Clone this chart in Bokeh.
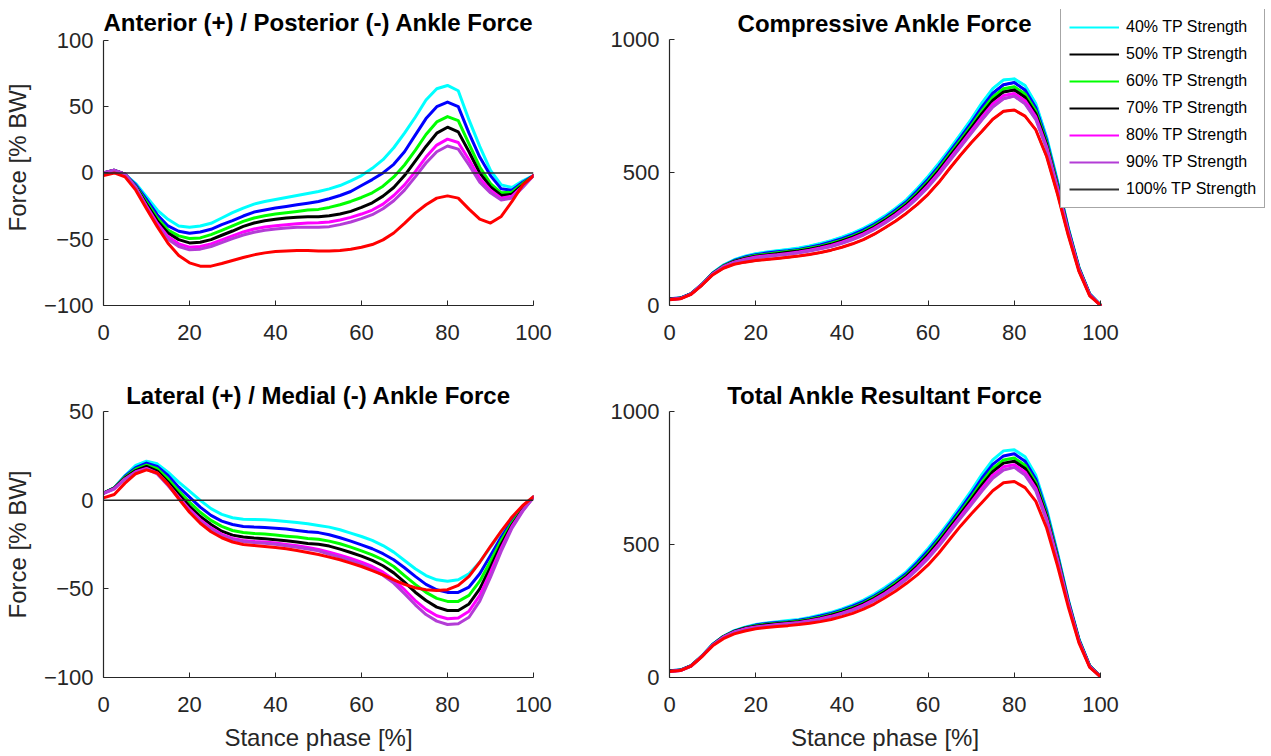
from bokeh.plotting import figure
from bokeh.layouts import column, row
from bokeh.models import Span, Legend, LegendItem, Range1d, Label
from bokeh.embed import file_html
from bokeh.resources import INLINE

# ---------------- data ----------------
stance = [0, 2.5, 5, 7.5, 10, 12.5, 15, 17.5, 20, 22.5, 25, 27.5, 30, 32.5, 35, 37.5,
          40, 42.5, 45, 47.5, 50, 52.5, 55, 57.5, 60, 62.5, 65, 67.5, 70, 72.5, 75,
          77.5, 80, 82.5, 85, 87.5, 90, 92.5, 95, 97.5, 100]

series_names = ["40% TP Strength", "50% TP Strength", "60% TP Strength", "70% TP Strength",
                "80% TP Strength", "90% TP Strength", "100% TP Strength"]
line_colors = ["#00FFFF", "#0000FF", "#00FF00", "#000000", "#FF00FF", "#B33DD6", "#FF0000"]
legend_colors = ["#00FFFF", "#000000", "#00FF00", "#000000", "#FF00FF", "#B33DD6", "#333333"]

x_ticks = [0, 20, 40, 60, 80, 100]

# Anterior (+) / Posterior (-) ankle force [% BW]
ap_40 = [0, 2, -1, -8, -18, -28, -35, -40, -41, -40, -38, -34, -30, -26.5, -23.5, -21.5, -20, -18.5, -17, -15.5, -14, -12, -9.5, -6, -2, 3.5, 10, 19, 30, 42, 55, 63.5, 66, 62, 40, 20, 2, -9, -11, -6, -2]
ap_50 = [0, 2, -1, -9, -20, -31.5, -40, -44, -45.5, -44.5, -42.5, -39, -36, -32.5, -29.5, -28, -26.5, -25.3, -24, -22.8, -21.5, -19.5, -17, -14, -9.5, -5, 0, 6.5, 16, 28.5, 41, 50, 53.5, 50, 30, 12, -2, -12, -13, -7, -2]
ap_60 = [0, 2, -1, -10, -22, -34, -43, -47.5, -49.5, -49, -46.5, -43.3, -40, -36.5, -34, -32.3, -31, -30, -29, -28, -27.5, -26, -24, -21.5, -18.5, -15, -10, -3, 6, 17, 29, 38.5, 42.5, 39.5, 22, 4.5, -8, -15, -14.5, -8, -2]
ap_70 = [0, 2, -1, -10.5, -23.5, -36, -45.3, -50.3, -52.8, -52.3, -50.3, -47, -43.8, -40.3, -37.8, -36, -35, -34, -33.5, -33, -33, -32.3, -31, -29, -26, -22.5, -17.5, -11, -2, 9, 20, 30, 34.5, 31, 16, 0, -10.5, -17, -16, -9, -2]
ap_80 = [0, 2, -1, -11, -25, -38, -48, -53.5, -56, -55.5, -53.5, -50.5, -47.5, -44.5, -42.3, -40.8, -39.8, -39, -38.3, -37.8, -37.5, -37, -35.5, -33.5, -31, -28, -23.5, -17, -9, 1, 12, 21, 25.5, 23, 10, -4, -13, -19, -17.5, -10, -2]
ap_90 = [0, 2, -1, -11, -26, -39.5, -50, -55.5, -58, -57.5, -55.5, -52.5, -49.5, -46.8, -44.8, -43.3, -42.3, -41.5, -41, -41, -41, -40.5, -39, -37, -34.5, -31.5, -27, -21, -13, -3, 7.5, 16, 20.3, 18, 6, -7, -15, -20.5, -19, -11, -2]
ap_100 = [-2, 0, -3, -13, -27, -40.5, -53, -62.3, -67.8, -70.3, -70.3, -68.3, -66, -63.8, -61.8, -60.3, -59.3, -58.8, -58.5, -58.5, -58.8, -58.8, -58.5, -57.5, -56, -54, -50.5, -45.3, -38, -30.3, -24, -19, -17.3, -19, -27.3, -34.8, -37.8, -32.8, -21.5, -9, -2]

# Compressive ankle force [% BW]
c_40 = [25, 28, 45, 80, 122, 152, 172, 185, 195, 201, 206, 211, 216, 224, 233, 244, 257, 272, 290, 312, 337, 366, 398, 440, 485, 535, 588, 643, 700, 762, 815, 848, 852, 827, 758, 633, 470, 294, 144, 44, 2]
c_50 = [25, 28, 45, 79, 121, 150, 169, 182, 191, 197, 202, 206, 211, 219, 228, 239, 251, 266, 284, 305, 330, 359, 390, 431, 475, 524, 577, 631, 687, 746, 798, 830, 838, 810, 743, 622, 463, 290, 142, 43, 2]
c_60 = [24, 27, 44, 79, 120, 149, 167, 179, 188, 193, 198, 203, 208, 215, 223, 234, 246, 261, 278, 300, 324, 353, 384, 423, 466, 515, 568, 621, 675, 732, 783, 815, 822, 795, 731, 613, 456, 286, 140, 42, 2]
c_70 = [24, 27, 44, 78, 119, 147, 166, 177, 185, 190, 195, 200, 205, 212, 220, 230, 243, 257, 274, 295, 320, 348, 379, 417, 460, 508, 560, 613, 667, 721, 771, 803, 810, 783, 721, 605, 451, 283, 138, 41, 2]
c_80 = [23, 26, 43, 78, 118, 146, 163, 174, 182, 187, 191, 196, 201, 208, 216, 226, 238, 252, 269, 290, 315, 342, 373, 410, 452, 499, 552, 604, 656, 709, 758, 789, 797, 770, 709, 597, 445, 280, 136, 40, 1]
c_90 = [23, 26, 43, 78, 118, 145, 162, 172, 179, 184, 189, 193, 198, 205, 213, 222, 234, 248, 265, 286, 310, 337, 367, 404, 445, 492, 544, 596, 647, 698, 746, 777, 787, 758, 699, 589, 440, 277, 134, 39, 1]
c_100 = [22, 25, 42, 76, 115, 140, 155, 163, 169, 173, 177, 181, 186, 192, 199, 208, 219, 232, 248, 268, 292, 318, 347, 380, 418, 463, 515, 565, 612, 655, 700, 730, 735, 712, 660, 560, 420, 265, 128, 36, 1]

# Lateral (+) / Medial (-) ankle force [% BW]
ml_40 = [4, 7, 13.9, 19.6, 22, 20.5, 15.8, 10.2, 5.1, -0.1, -4.8, -8, -9.9, -10.7, -10.9, -11, -11.4, -12, -12.6, -13.3, -14.3, -15.2, -16.7, -18.6, -20.5, -22.7, -25.6, -29.3, -34, -38.7, -42.5, -44.9, -45.7, -44.9, -41.5, -35, -26.5, -18, -10.5, -3.9, 1.7]
ml_50 = [4, 7, 13.5, 18.3, 20.9, 19, 13.9, 7.3, 1.7, -3.9, -8.6, -11.8, -13.7, -14.8, -15.2, -15.4, -15.8, -16.3, -17.1, -17.8, -18.3, -19.5, -21.2, -23.1, -25.2, -27.4, -30.2, -33.6, -38.1, -43, -47.5, -50.5, -52, -52, -49, -41.5, -31.2, -20.8, -11.8, -4.3, 1.7]
ml_60 = [4, 7, 13, 17.5, 19.8, 17.7, 12, 5.1, -1.1, -6.8, -11.4, -14.8, -17.1, -18.2, -18.8, -19.1, -19.7, -20.3, -20.8, -21.6, -22, -23.1, -24.6, -26.5, -28.6, -30.8, -33.6, -37.4, -42.5, -47.5, -52, -55.4, -57.1, -57.1, -53.7, -45.7, -34.4, -22.7, -12.8, -4.9, 1.7]
ml_70 = [4, 6.8, 12.5, 16.7, 19, 16.4, 10.2, 3.2, -3.5, -9.2, -13.7, -17.5, -19.7, -20.8, -21.4, -21.8, -22.3, -22.9, -23.6, -24.4, -24.9, -25.9, -27.6, -29.5, -31.6, -34, -37, -41, -46.2, -51.9, -56.6, -60.3, -62.2, -62.2, -58.5, -50, -37.8, -25, -13.9, -5.4, 1.7]
ml_80 = [3.8, 6.5, 12, 16, 17.9, 15.3, 8.9, 1.7, -5.2, -11, -15.6, -19.3, -21.6, -22.7, -23.3, -23.6, -24.2, -25, -25.7, -26.7, -27.8, -29.3, -31, -32.9, -35, -37.4, -40.6, -44.9, -50.5, -56.6, -61.6, -65.2, -66.9, -66.5, -62.6, -53.7, -40.6, -26.9, -14.8, -5.8, 1.7]
ml_90 = [3.8, 6.3, 11.8, 15.7, 17.5, 14.8, 8.3, 1, -6, -11.8, -16.3, -20, -22.2, -23.3, -23.9, -24.3, -24.9, -25.7, -26.5, -27.5, -28.6, -30.5, -32.1, -34.1, -36.3, -38.9, -42.3, -46.8, -52.8, -59, -64.5, -68.2, -70.1, -69.7, -66, -56.9, -43.4, -28.8, -15.8, -6.2, 1.7]
ml_100 = [1.3, 3.2, 9.6, 14.9, 17.1, 15.3, 8.9, 0.8, -6.8, -13, -17.8, -21.2, -23.6, -25, -25.5, -26.1, -26.7, -27.4, -28.4, -29.5, -30.6, -32.1, -33.6, -35.5, -37.4, -39.7, -42.1, -44.9, -47.5, -49.4, -50.5, -50.9, -50.5, -48, -43, -35, -26, -17.5, -9.5, -3, 2]

# Total ankle resultant force [% BW]
t_40 = [25, 28, 45, 81, 125, 155, 176, 189, 199, 205, 210, 214, 218, 226, 235, 245, 258, 273, 291, 313, 338, 367, 398, 440, 485, 535, 588, 644, 702, 764, 818, 852, 856, 830, 760, 634, 471, 295, 145, 45, 3]
t_50 = [25, 28, 45, 80, 124, 154, 174, 187, 197, 203, 207, 210, 215, 222, 231, 241, 253, 268, 285, 306, 331, 360, 391, 432, 476, 525, 578, 632, 689, 749, 801, 833, 841, 813, 745, 623, 464, 291, 143, 44, 3]
t_60 = [24, 27, 44, 80, 123, 154, 173, 186, 195, 200, 204, 208, 212, 219, 227, 237, 249, 263, 280, 302, 326, 355, 385, 424, 467, 516, 569, 622, 677, 735, 786, 818, 825, 798, 733, 614, 457, 287, 141, 43, 3]
t_70 = [24, 27, 44, 79, 122, 153, 173, 185, 193, 198, 202, 206, 210, 216, 224, 234, 246, 260, 277, 298, 322, 350, 381, 419, 462, 510, 562, 615, 669, 724, 774, 806, 813, 786, 723, 606, 452, 284, 139, 42, 3]
t_80 = [23, 26, 43, 79, 121, 152, 171, 183, 190, 195, 199, 203, 207, 213, 221, 230, 242, 255, 272, 293, 317, 344, 375, 412, 454, 501, 554, 606, 658, 712, 761, 792, 800, 773, 711, 598, 446, 281, 137, 41, 3]
t_90 = [23, 26, 43, 79, 121, 151, 170, 181, 188, 193, 197, 201, 205, 211, 218, 227, 239, 252, 268, 289, 312, 339, 369, 406, 447, 494, 546, 598, 649, 701, 749, 780, 790, 761, 701, 590, 441, 278, 135, 40, 3]
t_100 = [23, 26, 43, 78, 119, 146, 164, 175, 183, 188, 192, 195, 199, 204, 210, 218, 229, 241, 257, 276, 300, 325, 354, 386, 423, 468, 519, 569, 615, 658, 702, 732, 737, 714, 662, 562, 422, 267, 130, 38, 3]

ap_series = [ap_40, ap_50, ap_60, ap_70, ap_80, ap_90, ap_100]
c_series = [c_40, c_50, c_60, c_70, c_80, c_90, c_100]
ml_series = [ml_40, ml_50, ml_60, ml_70, ml_80, ml_90, ml_100]
t_series = [t_40, t_50, t_60, t_70, t_80, t_90, t_100]

# ---------------- styling ----------------
FONT = "Liberation Sans"
AX_COLOR = "#262626"


def style_axes(p, x_bounds=None, y_bounds=None):
    p.outline_line_color = None
    p.xgrid.visible = False
    p.ygrid.visible = False
    p.background_fill_color = "white"
    p.border_fill_color = "white"
    for ax in (p.xaxis, p.yaxis):
        ax.axis_line_color = AX_COLOR
        ax.axis_line_width = 1.2
        ax.major_tick_line_color = AX_COLOR
        ax.major_tick_in = 5
        ax.major_tick_out = 0
        ax.minor_tick_line_color = None
        ax.major_label_text_font = FONT
        ax.major_label_text_font_size = "22px"
        ax.major_label_text_color = AX_COLOR
        ax.axis_label_text_font = FONT
        ax.axis_label_text_font_size = "24px"
        ax.axis_label_text_font_style = "normal"
        ax.axis_label_text_color = AX_COLOR
    p.xaxis.ticker = x_ticks
    p.xaxis.major_label_standoff = 19
    p.yaxis.major_label_standoff = 10
    if x_bounds is not None:
        p.xaxis.bounds = x_bounds
    if y_bounds is not None:
        p.yaxis.bounds = y_bounds


def style_title(p, text):
    p.title.text = text
    p.title.text_font = FONT
    p.title.text_font_size = "24px"
    p.title.text_font_style = "bold"
    p.title.text_color = "#000000"
    p.title.align = "center"
    p.title.standoff = 6


def title_label(text, y):
    return Label(x=50, y=y, text=text, text_align="center", text_baseline="alphabetic",
                 text_font=FONT, text_font_size="24px", text_font_style="bold",
                 text_color="#000000")


def make_panel(title, series, y_lo, y_hi, y_ticks, width, height, left, right, top, bottom,
               ylabel=None, xlabel=None, zero_line=False):
    p = figure(width=width, height=height, x_range=Range1d(0, 100), y_range=Range1d(y_lo, y_hi),
               output_backend="svg", toolbar_location=None,
               min_border_left=left, min_border_right=right,
               min_border_top=top, min_border_bottom=bottom)
    style_axes(p)
    style_title(p, title)
    p.yaxis.ticker = y_ticks
    if ylabel:
        p.yaxis.axis_label = ylabel
        p.yaxis.axis_label_standoff = 10
    if xlabel:
        p.xaxis.axis_label = xlabel
        p.xaxis.axis_label_standoff = 9
    for ys, col in zip(series, line_colors):
        p.line(stance, ys, line_color=col, line_width=3, line_join="round", line_cap="round")
    if zero_line:
        p.add_layout(Span(location=0, dimension="width", line_color=AX_COLOR, line_width=1.5))
    return p


# ---- top row: frames start near the top edge so the legend (which overlaps the title
# area in the original) is not clipped; axis lines are bounded to the data extent and the
# titles are placed as labels inside the enlarged frames.
TOP_H, TOP_T, TOP_B = 372, 9, 66
top_frame_h = TOP_H - TOP_T - TOP_B       # 297 px, of which 266 px hold the axis extent

p1 = figure(width=566, height=TOP_H, title_location=None,
            x_range=Range1d(0, 100), y_range=Range1d(-100, -100 + 200 * top_frame_h / 266),
            output_backend="svg", toolbar_location=None,
            min_border_left=103, min_border_right=33, min_border_top=TOP_T, min_border_bottom=TOP_B)
style_axes(p1, y_bounds=(-100, 100))
p1.yaxis.ticker = [-100, -50, 0, 50, 100]
p1.yaxis.axis_label = "Force [% BW]"
p1.yaxis.axis_label_standoff = 10
for ys, col in zip(ap_series, line_colors):
    p1.line(stance, ys, line_color=col, line_width=3, line_join="round", line_cap="round")
p1.add_layout(Span(location=0, dimension="width", line_color=AX_COLOR, line_width=1.5))
p1.add_layout(title_label("Anterior (+) / Posterior (-) Ankle Force", 113.3))

P2_W, P2_L, P2_R = 705, 103, 1
frame_w = P2_W - P2_L - P2_R              # 601 px, of which 431 px hold 0..100 %
p2 = figure(width=P2_W, height=TOP_H, title_location=None,
            x_range=Range1d(0, 100 * frame_w / 431),
            y_range=Range1d(0, 1000 * (top_frame_h - 1) / 266),
            output_backend="svg", toolbar_location=None,
            min_border_left=P2_L, min_border_right=P2_R,
            min_border_top=TOP_T, min_border_bottom=TOP_B + 1)
style_axes(p2, x_bounds=(0, 100), y_bounds=(0, 1000))
p2.yaxis.ticker = [0, 500, 1000]

# legend proxies: same data, drawn first and thinner, so they stay hidden under the curves
items = []
for name, col, ys in zip(series_names, legend_colors, c_series):
    r = p2.line(stance, ys, line_color=col, line_width=2.2)
    items.append(LegendItem(label=name, renderers=[r]))

for ys, col in zip(c_series, line_colors):
    p2.line(stance, ys, line_color=col, line_width=3, line_join="round", line_cap="round")

p2.add_layout(title_label("Compressive Ankle Force", 1062))

legend = Legend(items=items, location=(391, 97),
                label_text_font=FONT, label_text_font_size="16px", label_text_color="#000000",
                glyph_width=50, glyph_height=20, label_height=20, label_standoff=7,
                spacing=7, padding=8, margin=0,
                border_line_color="#4d4d4d", border_line_width=1,
                background_fill_color="white", background_fill_alpha=1.0)
p2.add_layout(legend)

# ---- bottom row
p3 = make_panel("Lateral (+) / Medial (-) Ankle Force", ml_series, -100, 50,
                [-100, -50, 0, 50], 566, 382, 103, 33, 39, 77,
                ylabel="Force [% BW]", xlabel="Stance phase [%]", zero_line=True)
p4 = make_panel("Total Ankle Resultant Force", t_series, 0, 1000, [0, 500, 1000],
                705, 382, 103, 171, 39, 77, xlabel="Stance phase [%]")

layout = column(row(p1, p2, spacing=0), row(p3, p4, spacing=0), spacing=0)

open("out.html", "w").write(file_html(layout, INLINE))
